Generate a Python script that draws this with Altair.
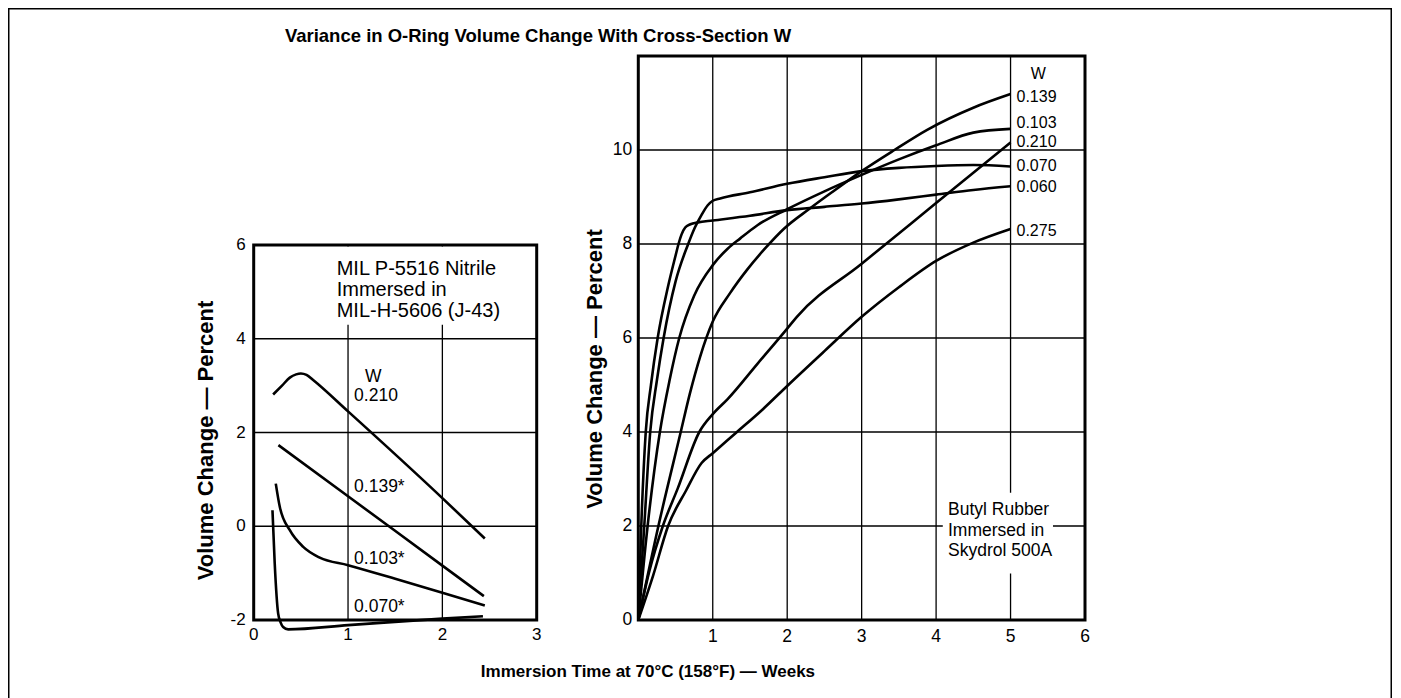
import altair as alt
import pandas as pd

SANS = "Liberation Sans, Arial, Helvetica, sans-serif"

# ---------------- left panel data: MIL P-5516 Nitrile in MIL-H-5606 ----------------
L_SERIES = ["0.210", "0.139*", "0.103*", "0.070*"]
L210_X = [0.206, 0.30, 0.383, 0.45, 0.50, 0.56, 0.63, 1.0, 2.0, 2.45]
L210_Y = [2.81, 3.00, 3.17, 3.24, 3.26, 3.23, 3.12, 2.45, 0.60, -0.26]
L139_X = [0.262, 1.0, 2.0, 2.44]
L139_Y = [1.73, 0.64, -0.84, -1.49]
L103_X = [0.234, 0.277, 0.383, 0.525, 0.70, 1.0, 1.5, 2.0, 2.45]
L103_Y = [0.91, 0.41, -0.085, -0.44, -0.67, -0.83, -1.12, -1.42, -1.69]
L070_X = [0.199, 0.223, 0.259, 0.285, 0.312, 0.365, 1.0, 2.0, 2.43]
L070_Y = [0.34, -0.80, -1.86, -2.05, -2.15, -2.20, -2.11, -1.97, -1.92]

L_LABEL_TEXT = ["W", "0.210", "0.139*", "0.103*", "0.070*"]
L_LABEL_X = [1.18, 1.064, 1.064, 1.064, 1.064]
L_LABEL_Y = [3.18, 2.78, 0.84, -0.69, -1.72]

L_NOTE_TEXT = ["MIL P-5516 Nitrile", "Immersed in", "MIL-H-5606 (J-43)"]
L_NOTE_X = [0.88, 0.88, 0.88]
L_NOTE_Y = [5.49, 5.05, 4.59]
L_NOTE_BOX = dict(x1=[0.85], x2=[2.95], y1=[4.30], y2=[5.97])

L_XDOM = [0, 3]
L_YDOM = [-2, 6]
L_XTICKS = [0, 1, 2, 3]
L_YTICKS = [-2, 0, 2, 4, 6]
L_XGRID = [1, 2]
L_YGRID = [0, 2, 4]
L_YTITLE_POS = [-0.506, 1.83]          # (weeks, percent) anchor of the rotated y title

# ---------------- right panel data: Butyl Rubber in Skydrol 500A ----------------
R_SERIES = ["0.060", "0.070", "0.103", "0.139", "0.210", "0.275"]
R060_X = [0, 0.04, 0.10, 0.17, 0.26, 0.40, 0.50, 0.54, 0.58, 0.63, 0.70, 0.80, 1.0, 1.5, 2.0, 2.5, 3.0, 3.5, 4.0, 4.5, 5.0]
R060_Y = [0, 2.0, 4.0, 5.0, 6.0, 7.1, 7.75, 8.0, 8.2, 8.35, 8.42, 8.46, 8.5, 8.6, 8.72, 8.79, 8.86, 8.95, 9.05, 9.15, 9.23]
R070_X = [0, 0.08, 0.16, 0.25, 0.34, 0.50, 0.67, 0.76, 0.85, 0.93, 1.0, 1.1, 1.5, 2.0, 2.5, 3.0, 3.5, 4.0, 4.5, 5.0]
R070_Y = [0, 2.0, 4.0, 5.1, 6.0, 7.2, 8.0, 8.35, 8.62, 8.82, 8.92, 8.97, 9.1, 9.28, 9.42, 9.55, 9.62, 9.66, 9.68, 9.65]
R103_X = [0, 0.125, 0.29, 0.42, 0.55, 0.75, 1.0, 1.2, 1.37, 1.6, 2.0, 2.5, 3.0, 3.5, 4.0, 4.5, 5.0]
R103_Y = [0, 2.0, 4.0, 5.1, 6.0, 6.9, 7.55, 7.9, 8.12, 8.4, 8.74, 9.12, 9.47, 9.8, 10.1, 10.37, 10.45]
R139_X = [0, 0.27, 0.57, 0.69, 0.83, 1.0, 1.23, 1.46, 1.7, 1.96, 2.3, 2.6, 3.0, 3.44, 3.88, 4.5, 5.0]
R139_Y = [0, 2.0, 4.0, 4.8, 5.6, 6.35, 6.95, 7.45, 7.9, 8.33, 8.75, 9.1, 9.55, 10.0, 10.43, 10.9, 11.19]
R210_X = [0, 0.15, 0.33, 0.53, 0.82, 1.0, 1.2, 1.6, 2.0, 2.13, 3.0, 4.0, 5.0]
R210_Y = [0, 1.05, 2.0, 2.8, 4.0, 4.38, 4.7, 5.45, 6.2, 6.45, 7.58, 8.87, 10.16]
R275_X = [0, 0.2, 0.4, 0.64, 0.85, 1.0, 1.31, 1.67, 2.0, 2.5, 3.0, 3.5, 4.0, 4.5, 5.0]
R275_Y = [0, 0.95, 2.0, 2.75, 3.34, 3.55, 3.98, 4.48, 4.98, 5.72, 6.45, 7.08, 7.64, 8.03, 8.32]

R_LABEL_TEXT = ["W", "0.139", "0.103", "0.210", "0.070", "0.060", "0.275"]
R_LABEL_X = [5.27, 5.08, 5.08, 5.08, 5.08, 5.08, 5.08]
R_LABEL_Y = [11.61, 11.13, 10.57, 10.18, 9.66, 9.22, 8.28]

R_NOTE_TEXT = ["Butyl Rubber", "Immersed in", "Skydrol 500A"]
R_NOTE_X = [4.16, 4.16, 4.16]
R_NOTE_Y = [2.34, 1.90, 1.46]
R_NOTE_BOX = dict(x1=[4.09], x2=[5.57], y1=[0.99], y2=[2.71])

R_XDOM = [0, 6]
R_YDOM = [0, 12]
R_XTICKS = [1, 2, 3, 4, 5, 6]
R_YTICKS = [0, 2, 4, 6, 8, 10]
R_XGRID = [1, 2, 3, 4, 5]
R_YGRID = [2, 4, 6, 8, 10]
R_YTITLE_POS = [-0.58, 5.34]
R_XTITLE_POS = [0.13, -1.10]

TITLE = "Variance in O-Ring Volume Change With Cross-Section W"
XTITLE = "Immersion Time at 70°C (158°F) — Weeks"
YTITLE = "Volume Change — Percent"

# ---------------- layout ----------------
W, H = 1384, 700


def lines_df(names, xs, ys):
    rows = []
    for n, xx, yy in zip(names, xs, ys):
        for a, b in zip(xx, yy):
            rows.append({"w": n, "x": a, "y": b})
    return pd.DataFrame(rows)


def grid_df(xgrid, ygrid, xdom, ydom):
    rows = []
    for g in xgrid:
        rows.append({"x1": g, "x2": g, "y1": ydom[0], "y2": ydom[1]})
    for g in ygrid:
        rows.append({"x1": xdom[0], "x2": xdom[1], "y1": g, "y2": g})
    return pd.DataFrame(rows)


def text_layer(df, xs, ys, **mark):
    base = dict(font=SANS, color="black")
    base.update(mark)
    return alt.Chart(df).mark_text(**base).encode(
        x=alt.X("x:Q", scale=xs, axis=None),
        y=alt.Y("y:Q", scale=ys, axis=None),
        text="t:N")


def panel(ldf, xdom, xrange, ydom, yrange, xticks, yticks, xgrid, ygrid,
          box, note_text, note_x, note_y, lab_text, lab_x, lab_y,
          tick_size, xlab_dy, ylab_dx, ytitle_pos, note_size, lab_size,
          xtitle_pos=None):
    xs = alt.Scale(domain=xdom, range=xrange, nice=False, zero=False)
    ys = alt.Scale(domain=ydom, range=yrange, nice=False, zero=False)

    def xy(c):
        return c.encode(x=alt.X("x1:Q", scale=xs, axis=None), x2="x2:Q",
                        y=alt.Y("y1:Q", scale=ys, axis=None), y2="y2:Q")

    grid = xy(alt.Chart(grid_df(xgrid, ygrid, xdom, ydom)).mark_rule(color="black", strokeWidth=1.3))
    boxl = xy(alt.Chart(pd.DataFrame(box)).mark_rect(color="white"))
    frame = xy(alt.Chart(pd.DataFrame({"x1": [xdom[0]], "x2": [xdom[1]],
                                       "y1": [ydom[0]], "y2": [ydom[1]]}))
               .mark_rect(fill="white", fillOpacity=0, stroke="black", strokeWidth=3))

    note = text_layer(pd.DataFrame({"t": note_text, "x": note_x, "y": note_y}), xs, ys,
                      align="left", baseline="middle", fontSize=note_size)

    curves = alt.Chart(ldf).mark_line(color="black", strokeWidth=2.6,
                                      interpolate="monotone").encode(
        x=alt.X("x:Q", scale=xs, axis=None), y=alt.Y("y:Q", scale=ys, axis=None),
        detail="w:N")

    labs = text_layer(pd.DataFrame({"t": lab_text, "x": lab_x, "y": lab_y}), xs, ys,
                      align="left", baseline="middle", fontSize=lab_size)

    # tick labels
    xt = text_layer(pd.DataFrame({"t": [str(v) for v in xticks], "x": xticks,
                                  "y": [ydom[0]] * len(xticks)}), xs, ys,
                    align="center", baseline="middle", fontSize=tick_size, dy=xlab_dy)
    yt = text_layer(pd.DataFrame({"t": [str(v) for v in yticks], "x": [xdom[0]] * len(yticks),
                                  "y": yticks}), xs, ys,
                    align="right", baseline="middle", fontSize=tick_size, dx=ylab_dx)
    ytl = text_layer(pd.DataFrame({"t": [YTITLE], "x": [ytitle_pos[0]], "y": [ytitle_pos[1]]}),
                     xs, ys, align="center", baseline="middle", angle=270,
                     fontSize=22, fontWeight="bold")
    layers = [grid, boxl, note, curves, frame, labs, xt, yt, ytl]
    if xtitle_pos is not None:
        layers.append(text_layer(pd.DataFrame({"t": [XTITLE], "x": [xtitle_pos[0]],
                                               "y": [xtitle_pos[1]]}), xs, ys,
                                 align="center", baseline="middle",
                                 fontSize=17, fontWeight="bold"))
    return alt.layer(*layers)


left_lines = lines_df(L_SERIES, [L210_X, L139_X, L103_X, L070_X], [L210_Y, L139_Y, L103_Y, L070_Y])
right_lines = lines_df(R_SERIES, [R060_X, R070_X, R103_X, R139_X, R210_X, R275_X],
                       [R060_Y, R070_Y, R103_Y, R139_Y, R210_Y, R275_Y])

left = panel(left_lines, L_XDOM, [245.7, 528.7], L_YDOM, [612, 237], L_XTICKS, L_YTICKS,
             L_XGRID, L_YGRID, L_NOTE_BOX, L_NOTE_TEXT, L_NOTE_X, L_NOTE_Y,
             L_LABEL_TEXT, L_LABEL_X, L_LABEL_Y,
             17, 15, -8, L_YTITLE_POS, 20, 17.5)

right = panel(right_lines, R_XDOM, [630.3, 1077], R_YDOM, [612, 48], R_XTICKS, R_YTICKS,
              R_XGRID, R_YGRID, R_NOTE_BOX, R_NOTE_TEXT, R_NOTE_X, R_NOTE_Y,
              R_LABEL_TEXT, R_LABEL_X, R_LABEL_Y,
              17.5, 17, -6, R_YTITLE_POS, 17.5, 16, xtitle_pos=R_XTITLE_POS)

chart = alt.layer(left, right).resolve_scale(
    x="independent", y="independent"
).properties(
    width=W, height=H, padding=0, background="white",
    title=alt.TitleParams(TITLE, font=SANS, fontSize=18.5, fontWeight="bold",
                          color="black", anchor="middle", baseline="middle",
                          offset=-46, dx=-162),
).configure_view(stroke="black", strokeWidth=3)

chart.save("out.html", embed_options={"renderer": "svg", "actions": False})
